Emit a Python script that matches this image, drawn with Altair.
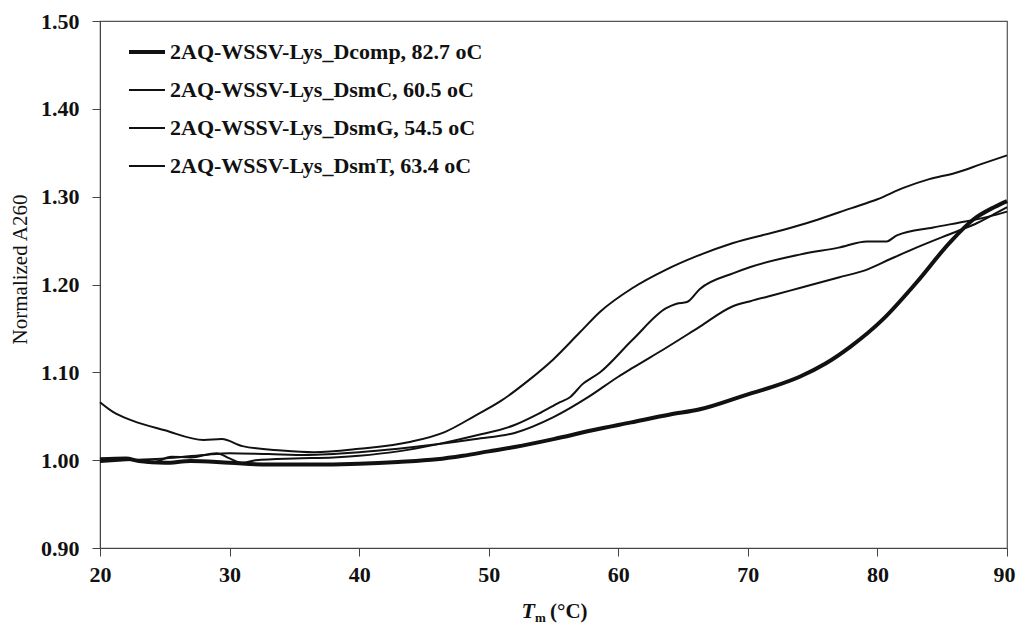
import altair as alt
import pandas as pd

series_names = [
    "2AQ-WSSV-Lys_Dcomp, 82.7 oC",
    "2AQ-WSSV-Lys_DsmC, 60.5 oC",
    "2AQ-WSSV-Lys_DsmG, 54.5 oC",
    "2AQ-WSSV-Lys_DsmT, 63.4 oC",
]

dcomp_t = [20, 22, 23, 25, 27, 30, 33, 36, 40, 43, 46, 48, 50, 52, 55, 58, 61, 64, 66.3, 70, 72, 74, 76, 77.9, 80.4, 83, 85.6, 87.4, 89, 90]
dcomp_v = [1.001, 1.002, 0.999, 0.997, 0.999, 0.997, 0.995, 0.995, 0.996, 0.998, 1.001, 1.005, 1.010, 1.015, 1.024, 1.034, 1.043, 1.052, 1.058, 1.075, 1.084, 1.095, 1.110, 1.129, 1.160, 1.202, 1.248, 1.274, 1.288, 1.295]

dsmc_t = [20, 22, 24, 25.5, 27, 29, 30, 31, 32, 35, 38, 40, 43, 46, 49, 52, 54, 55.5, 56.3, 57.2, 58.6, 61.1, 63.7, 64.5, 65.3, 66.3, 68.9, 70.2, 74, 77, 79.2, 80.7, 81.5, 84.3, 86.9, 88.5, 90]
dsmc_v = [1.000, 1.001, 0.997, 1.004, 1.003, 1.008, 1.002, 0.997, 1.000, 1.002, 1.003, 1.005, 1.010, 1.018, 1.028, 1.040, 1.054, 1.066, 1.072, 1.086, 1.100, 1.137, 1.173, 1.178, 1.180, 1.195, 1.213, 1.220, 1.234, 1.242, 1.249, 1.249, 1.256, 1.265, 1.272, 1.277, 1.283]

dsmg_t = [20, 21, 22.5, 25, 28, 29.4, 31, 34, 36.5, 40, 44, 46.6, 49, 51, 53, 55, 57, 58.6, 61.1, 63.7, 66, 68.8, 72.7, 75, 78, 80, 82, 84, 86, 88, 90]
dsmg_v = [1.066, 1.055, 1.045, 1.034, 1.023, 1.024, 1.016, 1.011, 1.009, 1.013, 1.021, 1.032, 1.051, 1.068, 1.090, 1.115, 1.145, 1.169, 1.196, 1.217, 1.232, 1.247, 1.262, 1.272, 1.287, 1.297, 1.310, 1.320, 1.327, 1.337, 1.347]

dsmt_t = [20, 22, 25, 28, 30, 33, 36, 40, 43, 46, 49, 52, 55, 57.7, 60, 61.1, 63.7, 66.3, 68.8, 70.2, 72, 74, 77, 79.2, 81, 83, 85, 86.4, 87.7, 89, 90]
dsmt_v = [0.998, 1.000, 1.002, 1.006, 1.008, 1.007, 1.006, 1.009, 1.013, 1.018, 1.024, 1.031, 1.049, 1.072, 1.095, 1.105, 1.128, 1.152, 1.175, 1.181, 1.188, 1.196, 1.208, 1.217, 1.229, 1.242, 1.254, 1.262, 1.270, 1.280, 1.288]

y_ticks = [0.9, 1.0, 1.1, 1.2, 1.3, 1.4, 1.5]
x_ticks = [20, 30, 40, 50, 60, 70, 80, 90]
line_widths = [4, 2, 2, 2]

rows = []
for name, ts, vs in zip(series_names, [dcomp_t, dsmc_t, dsmg_t, dsmt_t], [dcomp_v, dsmc_v, dsmg_v, dsmt_v]):
    for i, (t, v) in enumerate(zip(ts, vs)):
        rows.append({"series": name, "T": t, "A": v, "order": i})
df = pd.DataFrame(rows)

FONT = "Liberation Serif"

legend = alt.Legend(
    title=None, orient="none", legendX=27, legendY=11, padding=0,
    symbolType="stroke", symbolSize=1296, labelFont=FONT, labelFontSize=22,
    labelFontWeight="bold", labelColor="#111", labelOffset=3, rowPadding=8,
    labelLimit=500, symbolStrokeColor="#111",
)

lines = alt.Chart(df).mark_line(strokeCap="butt", strokeJoin="round", interpolate="monotone").encode(
    x=alt.X("T:Q", scale=alt.Scale(domain=[20, 90], nice=False, zero=False),
            axis=alt.Axis(values=x_ticks, title=None, grid=False, format="d",
                          labelFont=FONT, labelFontSize=22, labelFontWeight="bold",
                          labelColor="#111", tickSize=8, labelPadding=8,
                          labelOffset={"condition": {"test": "datum.value == 90", "value": -3}, "value": 0},
                          domainColor="#444", tickColor="#444", labelFlush=False)),
    y=alt.Y("A:Q", scale=alt.Scale(domain=[0.9, 1.5], nice=False, zero=False),
            axis=alt.Axis(values=y_ticks, format=".2f", title="Normalized A260", grid=False,
                          labelFont=FONT, labelFontSize=22, labelFontWeight="bold",
                          labelColor="#111", tickSize=8, labelPadding=13,
                          domainColor="#444", tickColor="#444",
                          titleFont=FONT, titleFontSize=21, titleFontWeight="normal",
                          titleColor="#111", titleX=-80, titleY=248, titleBaseline="middle",
                          titleAngle=270)),
    color=alt.Color("series:N", sort=series_names,
                    scale=alt.Scale(domain=series_names, range=["#111"] * 4), legend=legend),
    strokeWidth=alt.StrokeWidth("series:N", sort=series_names,
                                scale=alt.Scale(type="ordinal", domain=series_names, range=line_widths),
                                legend=legend),
    order="order:Q",
)

title_df = pd.DataFrame({"a": ["T"], "b": ["m"], "c": ["(°C)"]})
t_text = alt.Chart(title_df).mark_text(font=FONT, fontSize=22, fontWeight="bold", fontStyle="italic",
                                       align="right", baseline="alphabetic", color="#111").encode(
    x=alt.value(435), y=alt.value(597), text="a:N")
m_text = alt.Chart(title_df).mark_text(font=FONT, fontSize=13, fontWeight="bold",
                                       align="left", baseline="alphabetic", color="#111").encode(
    x=alt.value(435), y=alt.value(601), text="b:N")
c_text = alt.Chart(title_df).mark_text(font=FONT, fontSize=21, fontWeight="bold",
                                       align="left", baseline="alphabetic", color="#111").encode(
    x=alt.value(450), y=alt.value(597), text="c:N")

chart = alt.layer(lines, t_text, m_text, c_text).properties(
    width=907, height=527,
    autosize=alt.AutoSizeParams(type="none"),
    padding={"left": 92, "top": 13, "right": 9, "bottom": 77},
    background="white",
).configure_view(stroke="#555", strokeWidth=1.2)

chart.save("out.html", embed_options={"renderer": "svg", "actions": False})
